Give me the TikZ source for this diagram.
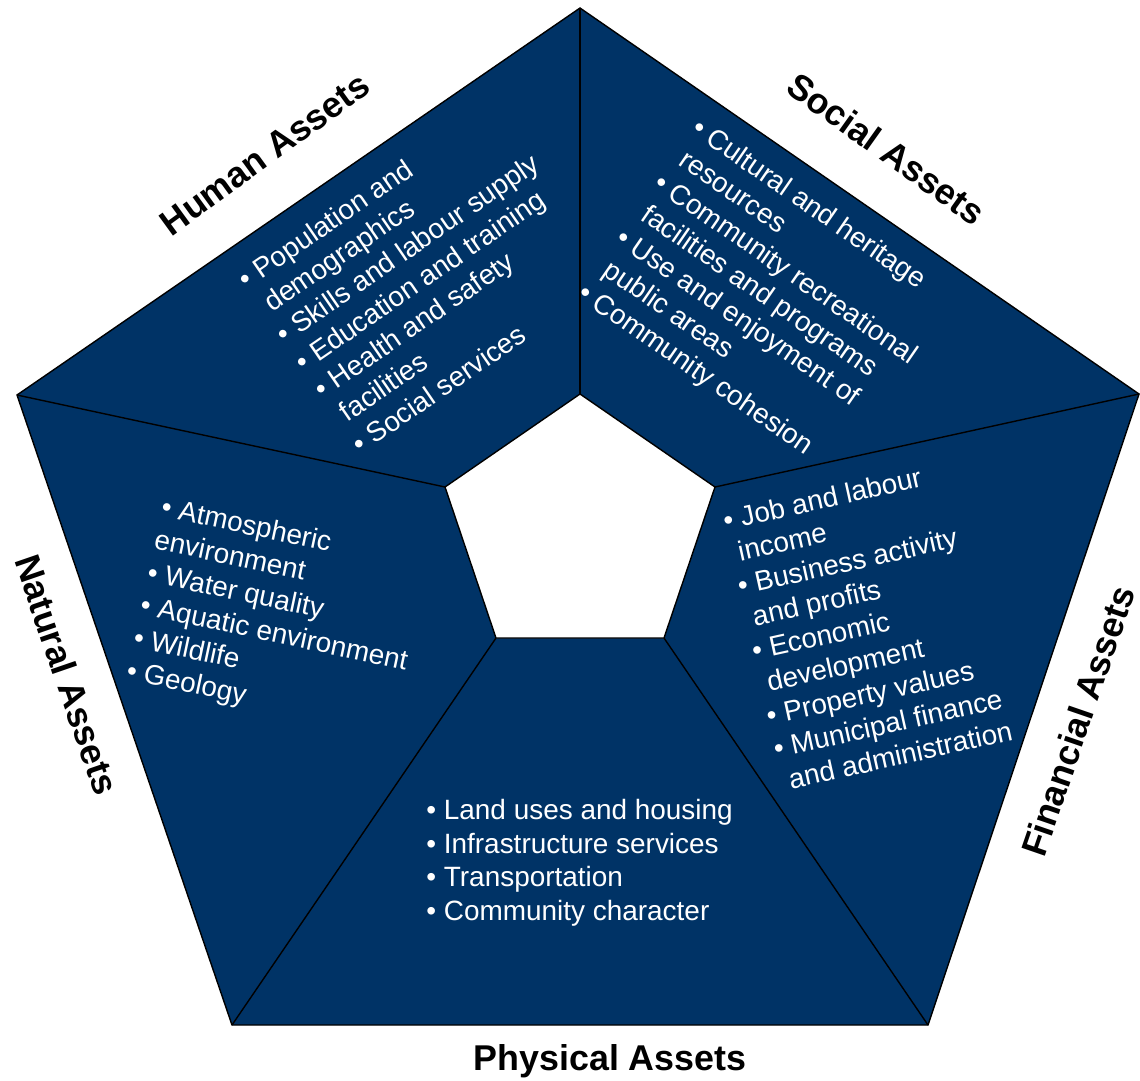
\documentclass[tikz,border=0pt]{standalone}
\usepackage{fontspec}
\setmainfont{Liberation Sans}
\definecolor{assetblue}{RGB}{0,51,102}
\newcommand{\contline}{\hspace*{4.5pt}}
\begin{document}
\begin{tikzpicture}[x=0.02cm,y=-0.02cm,
    itemlist/.style={text=white,align=left,inner sep=0pt,anchor=base west,
      font=\fontsize{15.9}{19}\selectfont},
    sidetitle/.style={text=black,inner sep=0pt,
      font=\bfseries\fontsize{20.4}{24}\selectfont}]
  \useasboundingbox (0,0) rectangle (1140,1080);

  % Outer corners
  \coordinate (o1) at (580,8);
  \coordinate (o2) at (1139,394);
  \coordinate (o3) at (928,1025);
  \coordinate (o4) at (232,1025);
  \coordinate (o5) at (17,395);

  % Inner corners
  \coordinate (i1) at (580,394);
  \coordinate (i2) at (715,487);
  \coordinate (i3) at (664,638);
  \coordinate (i4) at (496,638);
  \coordinate (i5) at (445,487);

  % Pentagon
  \draw[fill=assetblue,line width=0.8pt] (o1) -- (o2) -- (o3) -- (o4) -- (o5) -- cycle;
  \foreach \k in {1,...,5}
    \draw[line width=0.8pt] (o\k) -- (i\k);
  \draw[fill=white,line width=0.8pt] (i1) -- (i2) -- (i3) -- (i4) -- (i5) -- cycle;

  % Titles
  \node[sidetitle,anchor=base,rotate=36] (human) at (272,164) {Human Assets};
  \node[sidetitle,anchor=base,rotate=-35.5] (social) at (879,159) {Social Assets};
  \node[sidetitle,rotate=71] (financial) at (1078,721) {Financial Assets};
  \node[sidetitle,anchor=base] (physical) at (610,1070) {Physical Assets};
  \node[sidetitle,rotate=-71] (natural) at (67,675) {Natural Assets};

  % Lists (anchored at the baseline of their last line)
  \node[itemlist,rotate=34.5] (humanlist) at (360,455)
    {\textbullet\ Population and\\\contline demographics\\\textbullet\ Skills and labour supply\\
     \textbullet\ Education and training\\\textbullet\ Health and safety\\\contline facilities\\
     \textbullet\ Social services};
  \node[itemlist,rotate=-34.6] (sociallist) at (576,297)
    {\textbullet\ Cultural and heritage\\\contline resources\\\textbullet\ Community recreational\\
     \contline facilities and programs\\\textbullet\ Use and enjoyment of\\\contline public areas\\
     \textbullet\ Community cohesion};
  \node[itemlist,rotate=12.5] (financiallist) at (783,791)
    {\textbullet\ Job and labour\\\contline income\\\textbullet\ Business activity\\\contline and profits\\
     \textbullet\ Economic\\\contline development\\\textbullet\ Property values\\
     \textbullet\ Municipal finance\\\contline and administration};
  \node[itemlist] (physicallist) at (426,920)
    {\textbullet\ Land uses and housing\\\textbullet\ Infrastructure services\\
     \textbullet\ Transportation\\\textbullet\ Community character};
  \node[itemlist,rotate=-12] (naturallist) at (125,679)
    {\textbullet\ Atmospheric\\environment\\\textbullet\ Water quality\\
     \textbullet\ Aquatic environment\\\textbullet\ Wildlife\\\textbullet\ Geology};
\end{tikzpicture}
\end{document}
